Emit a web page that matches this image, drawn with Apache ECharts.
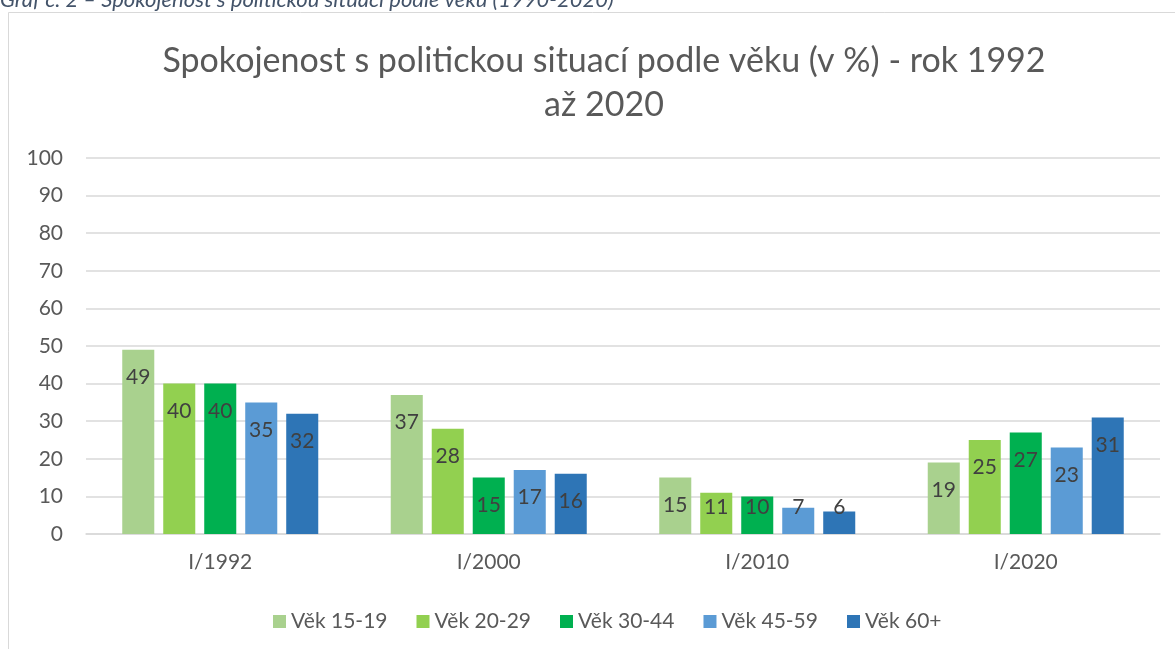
<!DOCTYPE html>
<html>
<head>
<meta charset="utf-8">
<script src="https://cdn.jsdelivr.net/npm/echarts@6/dist/echarts.min.js"></script>
<style>
  html, body { margin: 0; padding: 0; background: #fff; }
  #chart { width: 1175px; height: 649px; }
</style>
</head>
<body>
<div id="chart"></div>
<script>
// data
const periods = ["I/1992", "I/2000", "I/2010", "I/2020"];
const ageGroups = ["Věk 15-19", "Věk 20-29", "Věk 30-44", "Věk 45-59", "Věk 60+"];
const age15_19 = [49, 37, 15, 19];
const age20_29 = [40, 28, 11, 25];
const age30_44 = [40, 15, 10, 27];
const age45_59 = [35, 17, 7, 23];
const age60plus = [32, 16, 6, 31];
const yTicks = [0, 10, 20, 30, 40, 50, 60, 70, 80, 90, 100];

const seriesValues = [age15_19, age20_29, age30_44, age45_59, age60plus];
const colors = ["#A9D18E", "#92D050", "#00B050", "#5B9BD5", "#2E75B6"];
const font = "Lato, 'Open Sans', sans-serif";

const chart = echarts.init(document.getElementById("chart"));

// labels sit near the top of the bar, but on short bars excel keeps them low
const makeData = (vals) =>
  vals.map((v) => {
    if (v >= 15) {
      return { value: v, label: { position: "insideTop", distance: 17 } };
    }
    return { value: v, label: { position: "insideBottom", distance: 16 } };
  });

const series = seriesValues.map((vals, i) => ({
  name: ageGroups[i],
  type: "bar",
  data: makeData(vals),
  barGap: "28%",
  barCategoryGap: "27%",
  itemStyle: { color: colors[i] },
  label: {
    show: true,
    color: "#404040",
    fontSize: 21,
    fontFamily: font,
  },
}));

const option = {
  animation: false,
  backgroundColor: "#fff",
  textStyle: { fontFamily: font },
  graphic: [
    {
      type: "rect",
      shape: { x: 8.5, y: 12.5, width: 1300, height: 800 },
      style: { fill: "none", stroke: "#d9d9d9", lineWidth: 1 },
      silent: true,
    },
    {
      type: "text",
      left: 0,
      top: -11,
      style: {
        text: "Graf č. 2 – Spokojenost s politickou situací podle věku (1990-2020)",
        fill: "#44546A",
        font: "italic 22px " + font,
      },
    },
  ],
  title: {
    text: "Spokojenost s politickou situací podle věku (v %) - rok 1992\naž 2020",
    left: 599,
    top: 34,
    textAlign: "center",
    textStyle: {
      fontFamily: font,
      fontSize: 34,
      fontWeight: "normal",
      color: "#595959",
      lineHeight: 44,
    },
  },
  legend: {
    data: ageGroups,
    left: 268,
    top: 606,
    icon: "rect",
    itemWidth: 13,
    itemHeight: 13,
    itemGap: 29,
    textStyle: { fontSize: 21, color: "#595959", fontFamily: font },
  },
  grid: { left: 86, right: 15, top: 158, bottom: 115 },
  xAxis: {
    type: "category",
    data: periods,
    axisLine: { lineStyle: { color: "#d9d9d9", width: 1.5 } },
    axisTick: { show: false },
    axisLabel: { color: "#595959", fontSize: 21, margin: 18 },
  },
  yAxis: {
    type: "value",
    min: yTicks[0],
    max: yTicks[yTicks.length - 1],
    interval: yTicks[1] - yTicks[0],
    axisLine: { show: false },
    axisTick: { show: false },
    axisLabel: { color: "#595959", fontSize: 21, margin: 23 },
    splitLine: { lineStyle: { color: "#d9d9d9", width: 1.5 } },
  },
  series: series,
};

chart.setOption(option);
</script>
</body>
</html>
